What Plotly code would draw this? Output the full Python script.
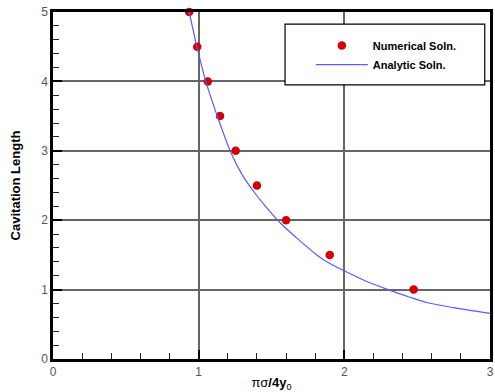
import plotly.graph_objects as go

# Numerical solution points
num_x = [0.935, 0.99, 1.063, 1.147, 1.254, 1.40, 1.60, 1.90, 2.476]
num_y = [5.0, 4.5, 4.0, 3.5, 3.0, 2.5, 2.0, 1.5, 1.0]

# Analytic solution curve
ana_x = [0.935, 0.988, 1.049, 1.128, 1.22, 1.30, 1.379, 1.459, 1.561, 1.686,
         1.811, 1.891, 2.0, 2.15, 2.30, 2.45, 2.573, 2.75, 3.0]
ana_y = [5.0, 4.5, 4.0, 3.5, 2.98, 2.65, 2.41, 2.20, 1.96, 1.72,
         1.50, 1.386, 1.27, 1.12, 1.0, 0.89, 0.81, 0.74, 0.657]

x_range = [0, 3]
y_range = [0, 5]

fig = go.Figure()
fig.add_trace(go.Scatter(x=num_x, y=num_y, mode="markers", name="Numerical Soln.",
                         marker=dict(color="#d40000", size=8.5), cliponaxis=False))
fig.add_trace(go.Scatter(x=ana_x, y=ana_y, mode="lines", name="Analytic Soln.",
                         line=dict(color="#5a5aff", width=1.2, shape="spline", smoothing=0.8)))

axis_common = dict(
    showline=True, linecolor="black", linewidth=2.5, mirror=True,
    showgrid=True, gridcolor="#666666", gridwidth=1.5,
    ticks="inside", ticklen=9, tickcolor="black", tickwidth=1.8,
    zeroline=False, tickmode="linear", tick0=0, dtick=1,
    tickfont=dict(family="Liberation Sans, Arial", size=12, color="#555555"),
    minor=dict(ticks="inside", ticklen=6, tickcolor="#222222", tickwidth=1.3,
               dtick=0.2, showgrid=False),
)

fig.update_xaxes(range=x_range, **axis_common,
                 title=dict(text="πσ<b>/4y</b><sub>0</sub>", standoff=2,
                            font=dict(family="Liberation Sans, Arial", size=13, color="black")))
fig.update_yaxes(range=y_range, **axis_common,
                 title=dict(text="<b>Cavitation Length</b>", standoff=18,
                            font=dict(family="Liberation Sans, Arial", size=13, color="black")))

fig.add_shape(type="rect", xref="paper", yref="paper",
              x0=0.531, x1=0.988, y0=0.79, y1=0.965,
              line=dict(color="black", width=1.2), fillcolor="white", layer="above")

fig.update_layout(
    width=495, height=392,
    margin=dict(l=53, r=2, t=12, b=30),
    plot_bgcolor="white", paper_bgcolor="white",
    showlegend=True,
    legend=dict(x=0.59, y=0.945, xanchor="left", yanchor="top",
                bgcolor="rgba(0,0,0,0)", borderwidth=0, tracegroupgap=0,
                itemwidth=52,
                font=dict(family="Liberation Sans, Arial", size=11, color="black", weight="bold")),
)

fig.write_html("out.html")
